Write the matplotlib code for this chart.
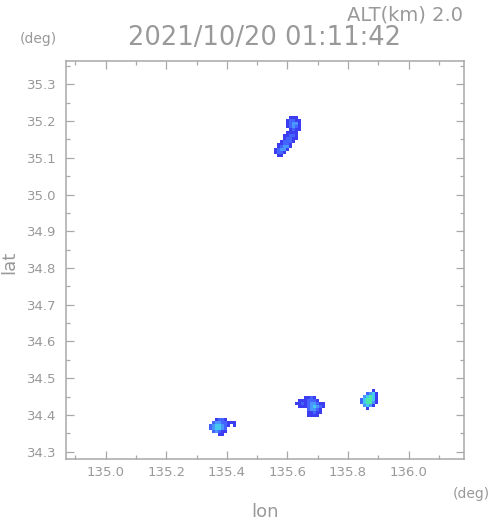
import numpy as np
import matplotlib
matplotlib.use("Agg")
import matplotlib.pyplot as plt
from matplotlib.colors import ListedColormap, BoundaryNorm

# data: echo cells per blob, digit = intensity level, '.' = no echo
dlon, dlat = 0.01, 0.008
blob_origins = [(135.555, 35.2136), (135.341, 34.391), (135.625, 34.451), (135.829, 34.470)]
blob_cells = [
    [".....111..",
     "....12211.",
     "....12331.",
     "....12321.",
     ".....1211.",
     "....1111..",
     "...11221..",
     "...12211..",
     "..12221...",
     ".11221....",
     ".12331....",
     "12331.....",
     "1221......",
     ".11......."],
    ["..1221...",
     ".23322111",
     "2344321.1",
     "234432...",
     ".23211...",
     "...11...."],
    ["...1121...",
     ".1112221..",
     "1121233211",
     ".111234321",
     "....23321.",
     "....11211.",
     "....1111.."],
    [".....1.",
     "...2341",
     "..34541",
     ".245541",
     ".245531",
     "..3431.",
     "...1..."],
]
level_colors = ['#3c3cf0', '#4464ff', '#4a96ff', '#44c8f0', '#4ce8a8']

xticks = [135.0, 135.2, 135.4, 135.6, 135.8, 136.0]
yticks = [34.3, 34.4, 34.5, 34.6, 34.7, 34.8, 34.9, 35.0, 35.1, 35.2, 35.3]
title = "2021/10/20 01:11:42"
alt_label = "ALT(km) 2.0"

gray = '#999999'
fig = plt.figure(figsize=(4.91, 5.21), dpi=100)
ax = fig.add_axes([66 / 491, 62 / 521, 398 / 491, 398 / 521])

cmap = ListedColormap(level_colors)
norm = BoundaryNorm(np.arange(0.5, 6.5, 1), cmap.N)
for (lon0, lat0), rows in zip(blob_origins, blob_cells):
    vals = np.array([[float(c) if c != '.' else np.nan for c in r] for r in rows])
    vals = np.ma.masked_invalid(vals)
    xe = lon0 + dlon * np.arange(vals.shape[1] + 1)
    ye = lat0 - dlat * np.arange(vals.shape[0] + 1)
    ax.pcolormesh(xe, ye, vals, cmap=cmap, norm=norm, shading='flat')

ax.set_xlim(134.869, 136.183)
ax.set_ylim(34.280, 35.3635)
ax.set_xticks(xticks)
ax.set_xticklabels([f"{v:.1f}" for v in xticks])
ax.set_yticks(yticks)
ax.set_yticklabels([f"{v:.1f}" for v in yticks])
ax.set_xticks(np.arange(134.9, 136.2, 0.1), minor=True)
ax.set_yticks(np.arange(34.3, 35.36, 0.05), minor=True)

ax.tick_params(which='both', direction='in', top=True, right=True, colors='#a8a8a8',
               labelcolor=gray, labelsize=9.5, width=0.9)
ax.tick_params(which='major', length=6)
ax.tick_params(which='minor', length=3)
ax.tick_params(axis='x', pad=5)
ax.tick_params(axis='y', pad=7)
for s in ax.spines.values():
    s.set_color('#a8a8a8')
    s.set_linewidth(1.1)

fig.text(264 / 491, 1 - 38 / 521, title, ha='center', va='center', fontsize=18.5, color=gray)
fig.text(463 / 491, 1 - 15 / 521, alt_label, ha='right', va='center', fontsize=14, color=gray)
fig.text(38 / 491, 1 - 39 / 521, "(deg)", ha='center', va='center', fontsize=10, color=gray)
fig.text(490 / 491, 1 - 494 / 521, "(deg)", ha='right', va='center', fontsize=10, color=gray)
fig.text(265 / 491, 1 - 512 / 521, "lon", ha='center', va='center', fontsize=13, color=gray)
fig.text(9 / 491, 1 - 262 / 521, "lat", ha='center', va='center', fontsize=13, color=gray,
         rotation=90)

fig.savefig("out.png", dpi=100)
